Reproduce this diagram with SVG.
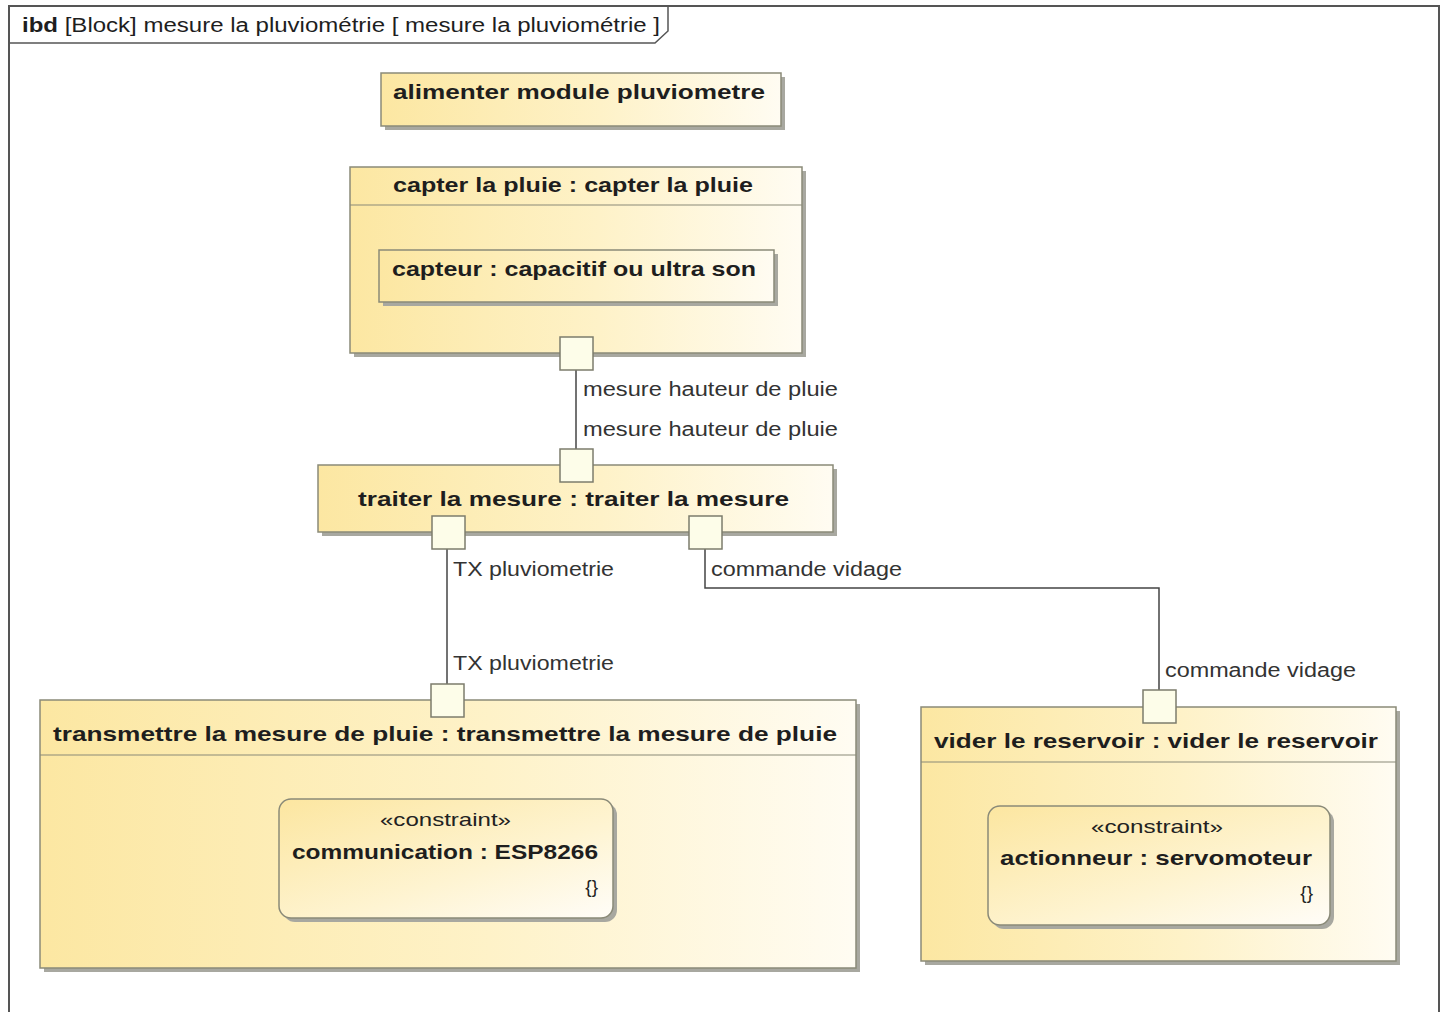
<svg xmlns="http://www.w3.org/2000/svg" width="1449" height="1012" viewBox="0 0 1449 1012">
<defs>
<linearGradient id="gBlock" x1="0" y1="0" x2="1" y2="0">
<stop offset="0" stop-color="#fce7a2"/>
<stop offset="0.55" stop-color="#fef2c8"/>
<stop offset="1" stop-color="#fffcf2"/>
</linearGradient>
<linearGradient id="gBox" x1="0" y1="0" x2="1" y2="1">
<stop offset="0" stop-color="#fce6a0"/>
<stop offset="0.6" stop-color="#fef4d2"/>
<stop offset="1" stop-color="#fffdf8"/>
</linearGradient>
<style>
.frame{fill:#ffffff;stroke:#555555;stroke-width:2}
.blk{fill:url(#gBlock);stroke:#8a8a78;stroke-width:1.5}
.box{fill:url(#gBox);stroke:#8a8a78;stroke-width:1.5}
.shd{fill:#a8a8a0}
.sep{stroke:#8a8a78;stroke-width:1.2;fill:none}
.port{fill:#fdfde9;stroke:#7c7c6c;stroke-width:1.5}
.con{fill:none;stroke:#444444;stroke-width:1.5}
.ttl{font-family:"Liberation Sans",Arial,sans-serif;font-weight:bold;font-size:21px;fill:#1e1e1e}
.lbl{font-family:"Liberation Sans",Arial,sans-serif;font-size:20px;fill:#333333}
.hdr{font-family:"Liberation Sans",Arial,sans-serif;font-size:20px;fill:#1e1e1e}
.st{font-family:"Liberation Sans",Arial,sans-serif;font-size:19px;fill:#222222}
</style>
</defs>
<rect width="1449" height="1012" fill="#ffffff"/>
<g id="frame">
<rect class="frame" x="9" y="6" width="1430" height="1015"/>
<path d="M9 43 H655 L668 31 V6" fill="none" stroke="#555555" stroke-width="1.5"/>
<text class="hdr" x="22" y="32" textLength="638" lengthAdjust="spacingAndGlyphs"><tspan font-weight="bold">ibd</tspan> [Block] mesure la pluviométrie [ mesure la pluviométrie ]</text>
</g>
<g id="connectors">
<path class="con" d="M576 370 V449"/>
<path class="con" d="M447 549 V684"/>
<path class="con" d="M705 549 V588 H1159 V690"/>
<text class="lbl" x="583" y="396" textLength="255" lengthAdjust="spacingAndGlyphs">mesure hauteur de pluie</text>
<text class="lbl" x="583" y="436" textLength="255" lengthAdjust="spacingAndGlyphs">mesure hauteur de pluie</text>
<text class="lbl" x="453" y="576" textLength="161" lengthAdjust="spacingAndGlyphs">TX pluviometrie</text>
<text class="lbl" x="453" y="670" textLength="161" lengthAdjust="spacingAndGlyphs">TX pluviometrie</text>
<text class="lbl" x="711" y="576" textLength="191" lengthAdjust="spacingAndGlyphs">commande vidage</text>
<text class="lbl" x="1165" y="677" textLength="191" lengthAdjust="spacingAndGlyphs">commande vidage</text>
</g>
<g id="alimenter">
<rect class="shd" x="385" y="77" width="400" height="53"/>
<rect class="blk" x="381" y="73" width="400" height="53"/>
<text class="ttl" x="393" y="99" textLength="372" lengthAdjust="spacingAndGlyphs">alimenter module pluviometre</text>
</g>
<g id="capter">
<rect class="shd" x="354" y="171" width="452" height="186"/>
<rect class="blk" x="350" y="167" width="452" height="186"/>
<line class="sep" x1="350" y1="205" x2="802" y2="205"/>
<text class="ttl" x="393" y="192" textLength="360" lengthAdjust="spacingAndGlyphs">capter la pluie : capter la pluie</text>
<g id="capteur">
<rect class="shd" x="383" y="254" width="395" height="52"/>
<rect class="blk" x="379" y="250" width="395" height="52"/>
<text class="ttl" x="392" y="276" textLength="364" lengthAdjust="spacingAndGlyphs">capteur : capacitif ou ultra son</text>
</g>
<rect class="port" x="560" y="337" width="33" height="33"/>
</g>
<g id="traiter">
<rect class="shd" x="322" y="469" width="515" height="67"/>
<rect class="blk" x="318" y="465" width="515" height="67"/>
<text class="ttl" x="358" y="506" textLength="431" lengthAdjust="spacingAndGlyphs">traiter la mesure : traiter la mesure</text>
<rect class="port" x="560" y="449" width="33" height="33"/>
<rect class="port" x="432" y="516" width="33" height="33"/>
<rect class="port" x="689" y="516" width="33" height="33"/>
</g>
<g id="transmettre">
<rect class="shd" x="44" y="704" width="816" height="268"/>
<rect class="blk" x="40" y="700" width="816" height="268"/>
<line class="sep" x1="40" y1="755" x2="856" y2="755"/>
<text class="ttl" x="53" y="741" textLength="784" lengthAdjust="spacingAndGlyphs">transmettre la mesure de pluie : transmettre la mesure de pluie</text>
<g id="communication">
<rect class="shd" x="283" y="803" width="334" height="119" rx="12"/>
<rect class="box" x="279" y="799" width="334" height="119" rx="12"/>
<text class="st" x="380" y="826" textLength="131" lengthAdjust="spacingAndGlyphs">«constraint»</text>
<text class="ttl" x="292" y="859" textLength="306" lengthAdjust="spacingAndGlyphs">communication : ESP8266</text>
<text class="st" x="598" y="893" text-anchor="end">{}</text>
</g>
<rect class="port" x="431" y="684" width="33" height="33"/>
</g>
<g id="vider">
<rect class="shd" x="925" y="711" width="475" height="254"/>
<rect class="blk" x="921" y="707" width="475" height="254"/>
<line class="sep" x1="921" y1="762" x2="1396" y2="762"/>
<text class="ttl" x="934" y="748" textLength="444" lengthAdjust="spacingAndGlyphs">vider le reservoir : vider le reservoir</text>
<g id="actionneur">
<rect class="shd" x="992" y="810" width="342" height="119" rx="12"/>
<rect class="box" x="988" y="806" width="342" height="119" rx="12"/>
<text class="st" x="1091" y="833" textLength="132" lengthAdjust="spacingAndGlyphs">«constraint»</text>
<text class="ttl" x="1000" y="865" textLength="312" lengthAdjust="spacingAndGlyphs">actionneur : servomoteur</text>
<text class="st" x="1313" y="899" text-anchor="end">{}</text>
</g>
<rect class="port" x="1143" y="690" width="33" height="33"/>
</g>
</svg>
